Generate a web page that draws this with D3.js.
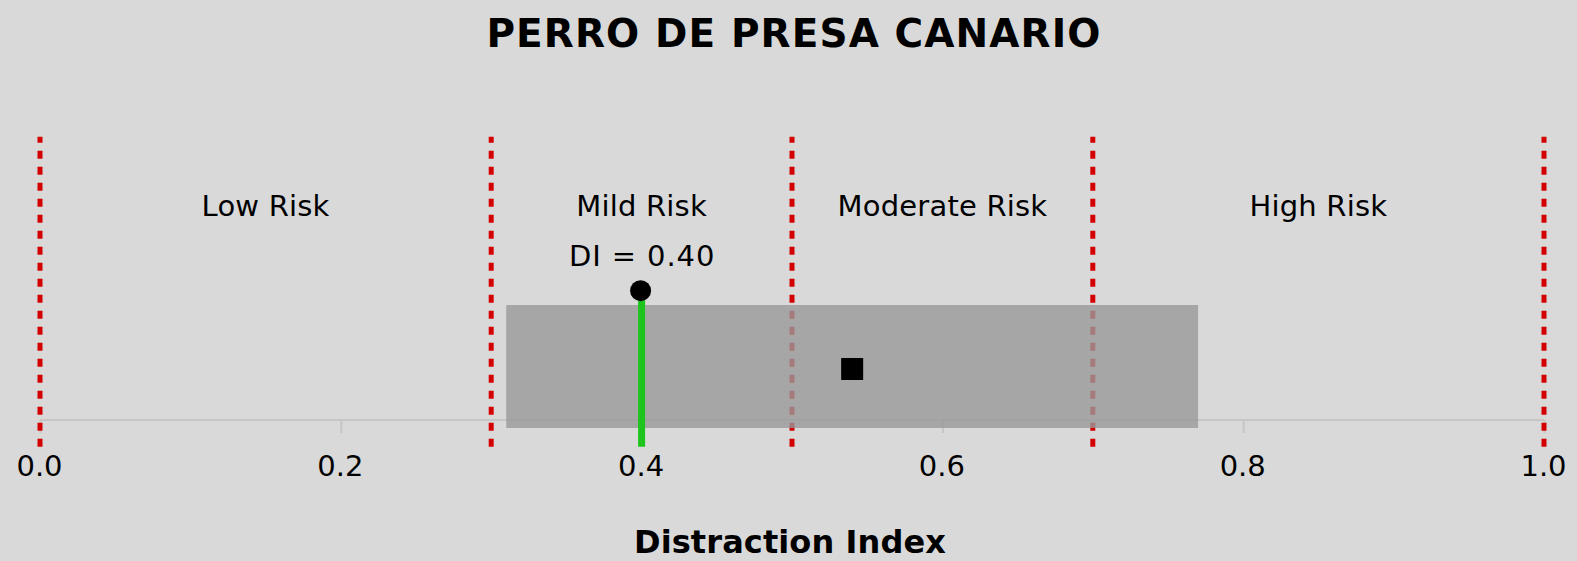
<!DOCTYPE html>
<html>
<head>
<meta charset="utf-8">
<script src="https://cdn.jsdelivr.net/npm/d3@7"></script>
<style>
  html, body { margin: 0; padding: 0; background: #d9d9d9; }
  svg { display: block; }
  text { font-family: "DejaVu Sans", sans-serif; }
</style>
</head>
<body>
<svg id="chart" width="1577" height="561"></svg>
<script>
// ---- data ----
const title = "PERRO DE PRESA CANARIO";
const axisTitle = "Distraction Index";
const thresholds = [0.0, 0.3, 0.5, 0.7, 1.0];
const zoneLabels = ["Low Risk", "Mild Risk", "Moderate Risk", "High Risk"];
const zoneCenters = [0.15, 0.4, 0.6, 0.85];
const tickValues = [0.0, 0.2, 0.4, 0.6, 0.8, 1.0];
const diValue = [0.40];
const intervalRange = [0.31, 0.77];
const meanValue = [0.54];

// ---- layout ----
const W = 1577, H = 561;
const svg = d3.select("#chart");
svg.append("rect").attr("width", W).attr("height", H).attr("fill", "#d9d9d9");

const x = d3.scaleLinear().domain([0, 1]).range([40, 1544]);
const axisY = 420;
const lineTop = 136.7, lineBottom = 446.7;
const rectTop = 305, rectBottom = 428;
const markerY = 290.7, squareY = 369;

// axis
const axis = d3.axisBottom(x).tickValues(tickValues).tickFormat(d3.format(".1f")).tickSize(13).tickPadding(22);
const gAxis = svg.append("g").attr("transform", `translate(0,${axisY})`).call(axis);
gAxis.select(".domain").attr("stroke", "#c6c6c6").attr("stroke-width", 2).attr("d", `M${x(0)},0H${x(1)}`);
gAxis.selectAll(".tick line").attr("stroke", "#c6c6c6").attr("stroke-width", 2);
gAxis.selectAll(".tick text").attr("fill", "#000").attr("font-size", 29)
  .attr("font-family", "DejaVu Sans, sans-serif").attr("dy", "0.71em").attr("dx", -1);

// threshold lines
svg.append("g").selectAll("line").data(thresholds).join("line")
  .attr("x1", d => x(d)).attr("x2", d => x(d))
  .attr("y1", lineBottom).attr("y2", lineTop)
  .attr("stroke", "#d40000").attr("stroke-width", 5)
  .attr("stroke-dasharray", "8,8");

// interval rect
svg.append("rect")
  .attr("x", x(intervalRange[0])).attr("width", x(intervalRange[1]) - x(intervalRange[0]))
  .attr("y", rectTop).attr("height", rectBottom - rectTop)
  .attr("fill", "#999").attr("fill-opacity", 0.8);

// DI line + marker
svg.append("g").selectAll("line").data(diValue).join("line")
  .attr("x1", d => x(d)).attr("x2", d => x(d))
  .attr("y1", markerY).attr("y2", lineBottom)
  .attr("stroke", "#1cc41c").attr("stroke-width", 7);
svg.append("g").selectAll("circle").data(diValue).join("circle")
  .attr("cx", d => x(d) - 1).attr("cy", markerY).attr("r", 10.5).attr("fill", "#000");
svg.append("g").selectAll("text").data(diValue).join("text")
  .attr("x", d => x(d) + 0.5).attr("y", 266).attr("text-anchor", "middle")
  .attr("font-size", 29).attr("letter-spacing", 0.9).attr("fill", "#000")
  .text(d => "DI = " + d3.format(".2f")(d));

// mean square
const sq = 22;
svg.append("g").selectAll("rect").data(meanValue).join("rect")
  .attr("x", d => x(d) - sq / 2).attr("y", squareY - sq / 2)
  .attr("width", sq).attr("height", sq).attr("fill", "#000");

// zone labels
svg.append("g").selectAll("text").data(zoneLabels).join("text")
  .attr("x", (d, i) => x(zoneCenters[i])).attr("y", 216)
  .attr("text-anchor", "middle").attr("font-size", 29).attr("letter-spacing", 0.2).attr("fill", "#000")
  .text(d => d);

// titles
svg.append("text").attr("x", 794).attr("y", 47.3).attr("text-anchor", "middle")
  .attr("font-size", 39).attr("font-weight", "bold").attr("letter-spacing", 1.1).attr("fill", "#000").text(title);
svg.append("text").attr("x", 790).attr("y", 553.3).attr("text-anchor", "middle")
  .attr("font-size", 32).attr("font-weight", "bold").attr("letter-spacing", 0.1).attr("fill", "#000").text(axisTitle);
</script>
</body>
</html>
